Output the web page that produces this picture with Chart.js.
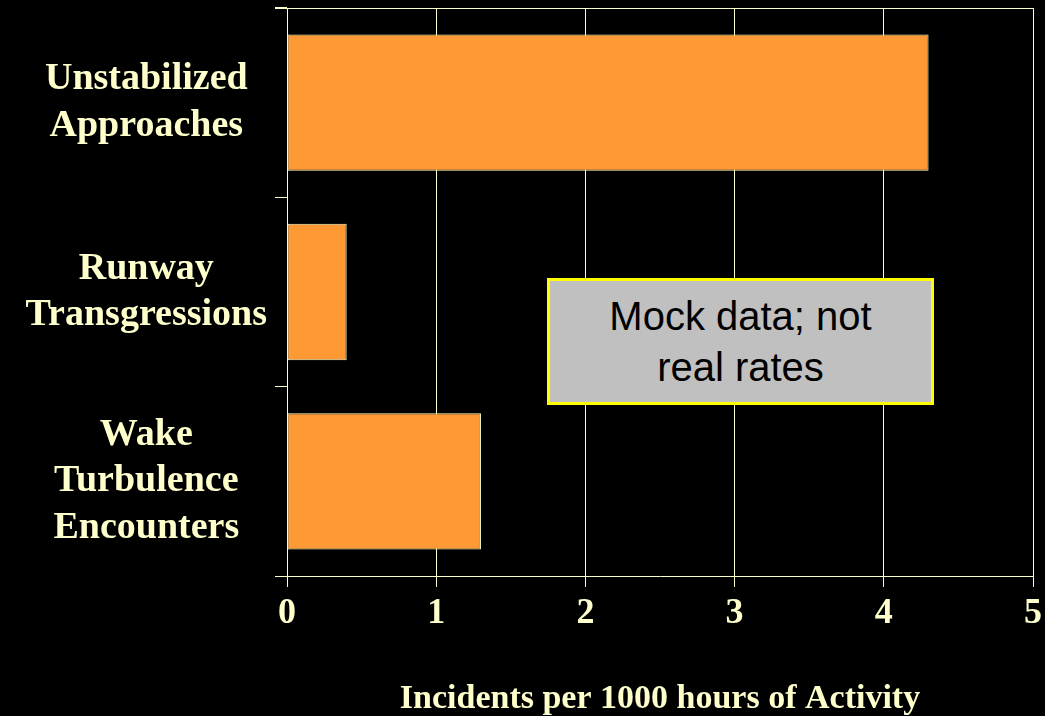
<!DOCTYPE html>
<html>
<head>
<meta charset="utf-8">
<script src="https://cdn.jsdelivr.net/npm/chart.js@4"></script>
<style>
  html, body { margin: 0; padding: 0; background: #000; }
  #wrap { position: relative; width: 1045px; height: 716px; }
  #note {
    position: absolute; left: 547px; top: 278px; width: 381px; height: 121px;
    background: #C0C0C0; border: 3px solid #FFFF00;
    font-family: "Liberation Sans", Arial, sans-serif; font-size: 40px; line-height: 51px;
    color: #000; text-align: center; display: flex; align-items: center; justify-content: center;
  }
</style>
</head>
<body>
<div id="wrap">
  <canvas id="chart" width="1045" height="716"></canvas>
  <div id="note">Mock data; not<br>real rates</div>
</div>
<script>
// data
const categories = [
  ['Unstabilized', 'Approaches'],
  ['Runway', 'Transgressions'],
  ['Wake', 'Turbulence', 'Encounters']
];
const rates = [4.3, 0.4, 1.3];
const xTicks = [0, 1, 2, 3, 4, 5];
const axisTitle = 'Incidents per 1000 hours of Activity';

const CREAM = '#FFFFCC';
const ORANGE = '#FF9933';
const serif = '"Liberation Serif", "Times New Roman", serif';

// top frame line across the plot
const topFrame = {
  id: 'topFrame',
  afterDatasetsDraw(chart) {
    const { ctx, chartArea: a } = chart;
    ctx.save();
    ctx.strokeStyle = CREAM;
    ctx.lineWidth = 1;
    ctx.beginPath();
    ctx.moveTo(a.left - 12, Math.round(a.top) + 0.5);
    ctx.lineTo(a.right, Math.round(a.top) + 0.5);
    ctx.stroke();
    ctx.restore();
  }
};

new Chart(document.getElementById('chart'), {
  type: 'bar',
  data: {
    labels: categories,
    datasets: [{
      data: rates,
      backgroundColor: ORANGE,
      borderColor: CREAM,
      borderWidth: 1,
      borderSkipped: false,
      barPercentage: 0.72,
      categoryPercentage: 1
    }]
  },
  options: {
    indexAxis: 'y',
    responsive: false,
    animation: false,
    layout: { padding: { top: 8, right: 12, left: 0, bottom: 0 } },
    plugins: { legend: { display: false }, tooltip: { enabled: false } },
    scales: {
      x: {
        min: 0, max: 5,
        afterBuildTicks: s => { s.ticks = xTicks.map(v => ({ value: v })); },
        afterFit: s => { s.height = 140; s.paddingLeft = 0; s.paddingRight = 0; },
        grid: { color: CREAM, lineWidth: 1, tickLength: 11, tickColor: CREAM },
        border: { color: CREAM, width: 1 },
        ticks: { color: CREAM, padding: 9, font: { family: serif, size: 36, weight: 'bold', lineHeight: 1 } },
        title: {
          display: true, text: axisTitle, color: CREAM,
          padding: { top: 0, bottom: 0 },
          font: { family: serif, size: 34, weight: 'bold', lineHeight: 1 }
        }
      },
      y: {
        afterFit: s => { s.width = 287; s.paddingTop = 0; s.paddingBottom = 0; },
        grid: {
          offset: true,
          drawOnChartArea: false,
          tickColor: CREAM, tickLength: 12, lineWidth: 1
        },
        border: { color: CREAM, width: 1 },
        ticks: {
          color: CREAM, crossAlign: 'center', padding: 8,
          font: { family: serif, size: 38, weight: 'bold', lineHeight: 1.22 }
        }
      }
    }
  },
  plugins: [topFrame]
});
</script>
</body>
</html>
